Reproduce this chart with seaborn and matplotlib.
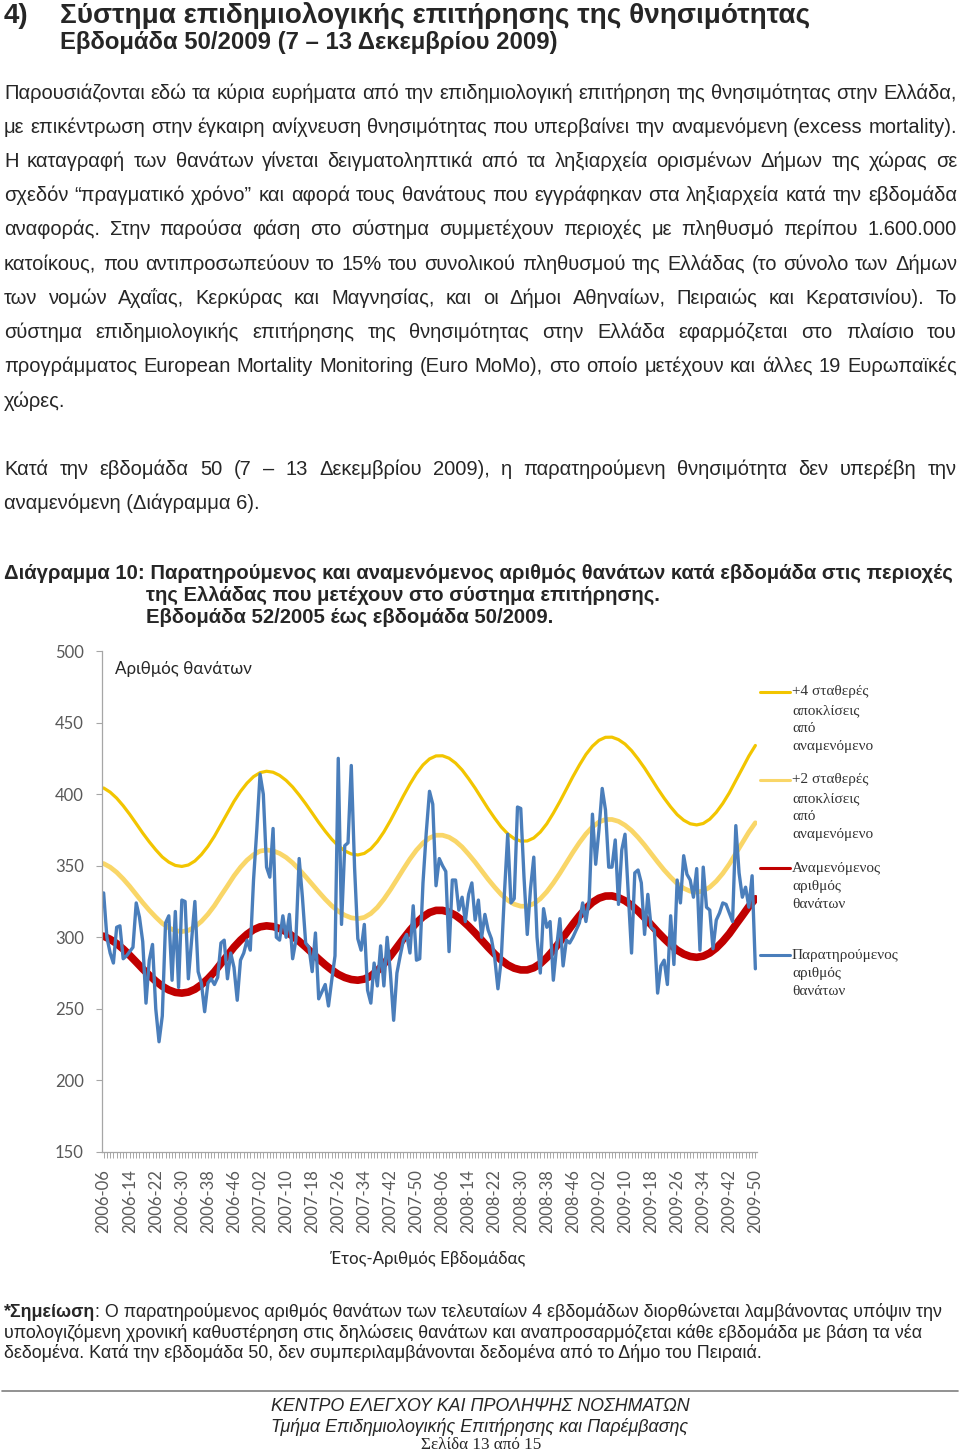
import matplotlib
matplotlib.use("Agg")
import matplotlib.pyplot as plt
from matplotlib.lines import Line2D
import pandas as pd
import seaborn as sns

W, H = 960, 1451

# weekly observed deaths, week 2006-06 .. 2009-50
observed = [331, 300, 289, 282, 307, 308, 285, 287, 290, 293,
            324, 314, 297, 254, 284, 295, 250, 227, 245, 310,
            315, 270, 318, 265, 326, 325, 271, 298, 325, 276,
            268, 248, 268, 271, 267, 272, 296, 298, 271, 289,
            279, 256, 284, 289, 298, 291, 340, 375, 414, 400,
            349, 342, 376, 300, 298, 315, 300, 316, 285, 298,
            355, 328, 296, 293, 276, 303, 257, 262, 267, 252,
            270, 287, 425, 309, 364, 366, 420, 349, 299, 291,
            309, 263, 254, 282, 266, 294, 266, 300, 275, 242,
            275, 287, 298, 302, 289, 322, 284, 285, 338, 373,
            402, 393, 336, 355, 350, 346, 290, 340, 340, 319,
            328, 311, 330, 338, 312, 326, 300, 316, 305, 299,
            286, 264, 284, 331, 372, 324, 327, 391, 390, 342,
            302, 334, 356, 300, 275, 320, 307, 311, 270, 293,
            313, 280, 298, 296, 300, 305, 310, 324, 311, 326,
            386, 351, 375, 404, 389, 349, 349, 368, 323, 361,
            372, 330, 289, 345, 347, 338, 302, 330, 307, 305,
            261, 280, 284, 267, 315, 281, 340, 324, 357, 344,
            340, 328, 348, 291, 349, 321, 319, 292, 312, 317,
            324, 323, 317, 311, 378, 345, 328, 335, 321, 343,
            278]

# smooth curves, read every second week
expected = [300.8, 298.6, 295.6, 291.8, 287.4, 282.7, 277.9, 273.5, 269.4, 265.8,
            263.2, 261.5, 261.0, 261.7, 263.7, 266.9, 271.0, 275.9, 281.7, 287.3,
            293.1, 298.0, 302.1, 305.3, 307.3, 308.0, 307.5, 306.1, 303.9, 300.8,
            297.2, 293.2, 289.0, 284.8, 280.8, 277.2, 274.1, 271.9, 270.5, 270.0,
            270.8, 273.0, 276.6, 281.4, 286.9, 293.0, 299.1, 304.9, 310.1, 314.3,
            317.3, 318.8, 318.8, 317.6, 315.3, 311.9, 307.7, 303.0, 298.0, 293.0,
            288.3, 284.1, 280.7, 278.4, 277.2, 277.2, 278.7, 281.6, 285.8, 291.0,
            296.8, 303.0, 309.2, 315.0, 320.2, 324.4, 327.3, 328.8, 328.9, 327.7,
            325.5, 322.3, 318.3, 313.7, 308.8, 303.8, 299.1, 294.8, 291.0, 288.3,
            286.6, 286.0, 286.8, 289.0, 292.5, 297.1, 302.5, 308.9, 315.1, 321.5,
            326.9]
plus2sd = [351.5, 349.0, 345.4, 340.8, 335.6, 329.9, 324.2, 318.9, 314.1, 309.7,
           306.6, 304.6, 304.0, 304.8, 307.3, 311.1, 316.1, 322.1, 329.1, 335.9,
           342.9, 348.9, 353.9, 357.7, 360.2, 361.0, 360.4, 358.6, 355.8, 352.0,
           347.4, 342.3, 337.0, 331.7, 326.6, 322.0, 318.2, 315.4, 313.6, 313.0,
           313.9, 316.6, 320.9, 326.6, 333.2, 340.4, 347.7, 354.7, 360.9, 365.9,
           369.4, 371.3, 371.3, 369.9, 367.1, 363.1, 358.0, 352.5, 346.5, 340.5,
           335.0, 329.9, 325.9, 323.1, 321.7, 321.7, 323.5, 326.9, 331.8, 337.9,
           344.7, 352.0, 359.3, 366.1, 372.2, 377.1, 380.5, 382.3, 382.3, 381.0,
           378.3, 374.6, 369.8, 364.4, 358.5, 352.6, 347.0, 342.0, 337.5, 334.2,
           332.2, 331.5, 332.4, 335.0, 339.2, 344.6, 351.1, 358.6, 366.0, 373.5,
           380.0]
plus4sd = [404.3, 401.4, 397.2, 391.9, 385.9, 379.4, 372.8, 366.7, 361.1, 356.1,
           352.5, 350.2, 349.5, 350.5, 353.3, 357.8, 363.6, 370.6, 378.7, 386.8,
           394.9, 401.9, 407.7, 412.2, 415.0, 416.0, 415.3, 413.1, 409.6, 405.0,
           399.4, 393.3, 386.8, 380.2, 374.1, 368.5, 363.9, 360.4, 358.2, 357.5,
           358.6, 361.8, 366.9, 373.6, 381.5, 390.1, 398.8, 407.0, 414.4, 420.4,
           424.6, 426.7, 426.8, 425.1, 421.7, 416.9, 410.8, 404.2, 397.0, 389.8,
           383.2, 377.1, 372.3, 368.9, 367.2, 367.3, 369.4, 373.5, 379.3, 386.7,
           394.8, 403.5, 412.2, 420.3, 427.7, 433.5, 437.6, 439.7, 439.8, 438.1,
           435.0, 430.4, 424.6, 418.2, 411.1, 403.9, 397.2, 391.1, 385.7, 381.8,
           379.3, 378.5, 379.5, 382.5, 387.3, 393.5, 400.9, 409.5, 418.0, 426.6,
           434.0]

tick_labels = ["2006-06", "2006-14", "2006-22", "2006-30", "2006-38", "2006-46",
               "2007-02", "2007-10", "2007-18", "2007-26", "2007-34", "2007-42", "2007-50",
               "2008-06", "2008-14", "2008-22", "2008-30", "2008-38", "2008-46",
               "2009-02", "2009-10", "2009-18", "2009-26", "2009-34", "2009-42", "2009-50"]

weeks = [f"{y}-{w:02d}" for y in range(2006, 2010) for w in range(1, 53)]
weeks = weeks[weeks.index("2006-06"):weeks.index("2009-50") + 1]

legend_items = [
    (["+4 σταθερές", "αποκλίσεις", "από", "αναμενόμενο"], "#F2C500", 2.2, 692),
    (["+2 σταθερές", "αποκλίσεις", "από", "αναμενόμενο"], "#F9D668", 2.2, 780),
    (["Αναμενόμενος", "αριθμός", "θανάτων"], "#C00000", 2.2, 868),
    (["Παρατηρούμενος", "αριθμός", "θανάτων"], "#4A7EBB", 2.2, 955),
]

heading = ["Σύστημα επιδημιολογικής επιτήρησης της θνησιμότητας",
           "Εβδομάδα 50/2009 (7 – 13 Δεκεμβρίου 2009)"]

paragraph1 = [
    "Παρουσιάζονται εδώ τα κύρια ευρήματα από την επιδημιολογική επιτήρηση της θνησιμότητας στην Ελλάδα,",
    "με επικέντρωση στην έγκαιρη ανίχνευση θνησιμότητας που υπερβαίνει την αναμενόμενη (excess mortality).",
    "Η καταγραφή των θανάτων γίνεται δειγματοληπτικά από τα ληξιαρχεία ορισμένων Δήμων της χώρας σε",
    "σχεδόν “πραγματικό χρόνο” και αφορά τους θανάτους που εγγράφηκαν στα ληξιαρχεία κατά την εβδομάδα",
    "αναφοράς. Στην παρούσα φάση στο σύστημα συμμετέχουν περιοχές με πληθυσμό περίπου 1.600.000",
    "κατοίκους, που αντιπροσωπεύουν το 15% του συνολικού πληθυσμού της Ελλάδας (το σύνολο των Δήμων",
    "των νομών Αχαΐας, Κερκύρας και Μαγνησίας, και οι Δήμοι Αθηναίων, Πειραιώς και Κερατσινίου). Το",
    "σύστημα επιδημιολογικής επιτήρησης της θνησιμότητας στην Ελλάδα εφαρμόζεται στο πλαίσιο του",
    "προγράμματος European Mortality Monitoring (Euro MoMo), στο οποίο μετέχουν και άλλες 19 Ευρωπαϊκές",
    "χώρες.",
]
paragraph2 = [
    "Κατά την εβδομάδα 50 (7 – 13 Δεκεμβρίου 2009), η παρατηρούμενη θνησιμότητα δεν υπερέβη την",
    "αναμενόμενη (Διάγραμμα 6).",
]

caption = ["Διάγραμμα 10: Παρατηρούμενος και αναμενόμενος αριθμός θανάτων κατά εβδομάδα στις περιοχές",
           "της Ελλάδας που μετέχουν στο σύστημα επιτήρησης.",
           "Εβδομάδα 52/2005 έως εβδομάδα 50/2009."]

note = ["*Σημείωση",
        ": Ο παρατηρούμενος αριθμός θανάτων των τελευταίων 4 εβδομάδων διορθώνεται λαμβάνοντας υπόψιν την",
        "υπολογιζόμενη χρονική καθυστέρηση στις δηλώσεις θανάτων και αναπροσαρμόζεται κάθε εβδομάδα με βάση τα νέα",
        "δεδομένα. Κατά την εβδομάδα 50, δεν συμπεριλαμβάνονται δεδομένα από το Δήμο του Πειραιά."]

footer = ["ΚΕΝΤΡΟ ΕΛΕΓΧΟΥ ΚΑΙ ΠΡΟΛΗΨΗΣ ΝΟΣΗΜΑΤΩΝ",
          "Τμήμα Επιδημιολογικής Επιτήρησης και Παρέμβασης",
          "Σελίδα 13 από 15"]

sns.set_style("white")
plt.rcParams["font.family"] = ["Lato", "DejaVu Sans"]
NARROW = ["Liberation Sans Narrow", "Liberation Sans", "DejaVu Sans"]

fig = plt.figure(figsize=(W / 100, H / 100), dpi=100)
renderer = fig.canvas.get_renderer()


def fy(y):
    return 1 - y / H


def measure(s, size, **kw):
    t = fig.text(0, 0, s, fontsize=size, **kw)
    w = t.get_window_extent(renderer).width
    t.remove()
    return w


def fitted(x, y, s, width, ha="left", **kw):
    # scale the font so the string spans the width it has in the page
    size = 12 * width / measure(s, 12, **kw)
    fig.text(x / W, fy(y), s, fontsize=size, ha=ha, va="baseline", **kw)
    return size


def justified(y, s, size, x0=4, x1=957, **kw):
    words = s.split()
    texts = [fig.text(0, fy(y), w, fontsize=size, va="baseline", **kw) for w in words]
    widths = [t.get_window_extent(renderer).width for t in texts]
    gap = (x1 - x0 - sum(widths)) / (len(words) - 1)
    x = x0
    for t, w in zip(texts, widths):
        t.set_x(x / W)
        x += w + gap


# ---- chart ----
ax = fig.add_axes([102 / W, fy(1152), 655 / W, 501 / H])

df_obs = pd.DataFrame({"week": range(len(weeks)), "deaths": observed})
df_curves = pd.DataFrame({"week": range(0, len(weeks), 2), "expected": expected,
                          "sd2": plus2sd, "sd4": plus4sd})

sns.lineplot(data=df_curves, x="week", y="sd4", ax=ax, color="#F2C500", lw=2.3)
sns.lineplot(data=df_curves, x="week", y="sd2", ax=ax, color="#F9D668", lw=3.4)
sns.lineplot(data=df_curves, x="week", y="expected", ax=ax, color="#C00000", lw=5.5)
sns.lineplot(data=df_obs, x="week", y="deaths", ax=ax, color="#4A7EBB", lw=2.4)

ax.set_xlim(-0.5, len(weeks) - 0.5)
ax.set_ylim(150, 500)
ax.set_yticks(range(150, 501, 50))
ax.set_xticks([weeks.index(l) for l in tick_labels])
ax.set_xticklabels(tick_labels, rotation=90)
ax.set_xticks(range(len(weeks)), minor=True)
ax.set_xlabel("")
ax.set_ylabel("")
sns.despine(ax=ax)
for side in ["left", "bottom"]:
    ax.spines[side].set_color("#A6A6A6")
    ax.spines[side].set_linewidth(0.9)
ax.tick_params(axis="x", which="both", bottom=True, direction="out", length=4,
               color="#A6A6A6", width=0.7)
ax.tick_params(axis="x", which="major", labelsize=12, labelcolor="#595959", pad=8)
ax.tick_params(axis="y", left=True, direction="out", length=4, color="#A6A6A6",
               width=0.8, labelsize=12, labelcolor="#595959", pad=9)

fitted(115, 674, "Αριθμός θανάτων", 137, color="#262626")
fitted(428, 1264, "Έτος-Αριθμός Εβδομάδας", 196, ha="center", color="#262626")

# legend drawn as in the source layout (sample aligned with the first text line)
for lines, color, lw, y in legend_items:
    fig.add_artist(Line2D([760 / W, 790 / W], [fy(y), fy(y)], color=color, lw=lw))
    for k, s in enumerate(lines):
        fig.text(792 / W, fy(y + 18.2 * k), s, fontsize=11, va="center",
                 color="#333333", family=["Liberation Serif", "DejaVu Serif"])

# ---- page text ----
hsize = fitted(60, 23, heading[0], 745, weight="bold", family=NARROW)
fig.text(4 / W, fy(23), "4)", fontsize=hsize, weight="bold", va="baseline", family=NARROW)
fitted(60, 49, heading[1], 496, weight="bold", family=NARROW)

body_size = 12 * 953 / measure(paragraph1[0], 12, family=NARROW)
baselines1 = [99, 133, 167, 201, 235, 270, 304, 338, 372, 407]
for i, (s, y) in enumerate(zip(paragraph1, baselines1)):
    if i == len(paragraph1) - 1:
        fig.text(4 / W, fy(y), s, fontsize=body_size, va="baseline", family=NARROW)
    else:
        justified(y, s, body_size, family=NARROW)
justified(475, paragraph2[0], body_size, family=NARROW)
fig.text(4 / W, fy(509), paragraph2[1], fontsize=body_size, va="baseline", family=NARROW)

csize = fitted(4, 579, caption[0], 946, weight="bold", family=NARROW)
fig.text(146 / W, fy(601), caption[1], fontsize=csize, weight="bold", va="baseline", family=NARROW)
fig.text(146 / W, fy(623), caption[2], fontsize=csize, weight="bold", va="baseline", family=NARROW)

nsize = 12 * 938 / (measure(note[0], 12, weight="bold", family=NARROW)
                    + measure(note[1], 12, family=NARROW))
t = fig.text(4 / W, fy(1317), note[0], fontsize=nsize, weight="bold", va="baseline", family=NARROW)
bw = t.get_window_extent(renderer).width
fig.text((4 + bw) / W, fy(1317), note[1], fontsize=nsize, va="baseline", family=NARROW)
fig.text(4 / W, fy(1338), note[2], fontsize=nsize, va="baseline", family=NARROW)
fig.text(4 / W, fy(1358), note[3], fontsize=nsize, va="baseline", family=NARROW)

fig.add_artist(Line2D([2 / W, 958 / W], [fy(1391), fy(1391)], color="#7F7F7F", lw=1.2))
fitted(480, 1411, footer[0], 419, ha="center", style="italic", family=NARROW)
fitted(480, 1432, footer[1], 416, ha="center", style="italic", family=NARROW)
fitted(481, 1449, footer[2], 120, ha="center", family=["Liberation Serif", "DejaVu Serif"])

fig.savefig("out.png", dpi=100, facecolor="white")
